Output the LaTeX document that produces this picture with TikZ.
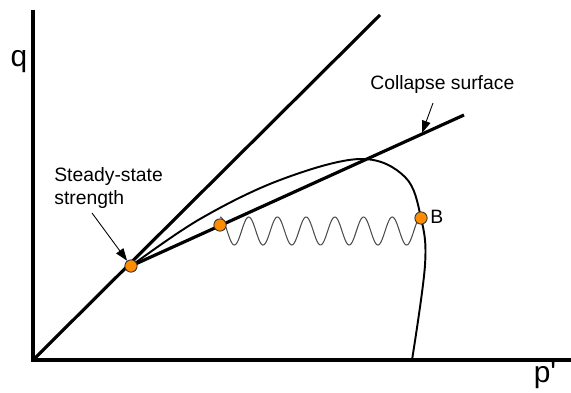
\documentclass[tikz,border=0pt]{standalone}
\usepackage{fontspec}
\setmainfont{Liberation Sans}
\usetikzlibrary{arrows.meta}

\begin{document}
\begin{tikzpicture}[
  x=0.02cm, y=-0.02cm,
  axis/.style={line width=2pt},
  envelope/.style={line width=1.8pt},
  path/.style={line width=1.1pt},
  wiggle/.style={line width=0.6pt, black!70},
  pointer/.style={line width=0.5pt, -{Triangle[length=7pt,width=5pt]}},
  state/.style={circle, draw=black!80, fill=orange!90!yellow, line width=0.5pt, inner sep=0pt, minimum size=7pt},
  lbl/.style={font=\fontsize{11}{13}\selectfont, inner sep=0pt}
]
\useasboundingbox (0,0) rectangle (571,392);
% axes
\coordinate (origin) at (33,360);
\coordinate (qtop) at (33,10);
\coordinate (pend) at (571,360);
\draw[axis] (qtop) -- (origin) -- (pend);
\node[lbl, font=\fontsize{17}{19}\selectfont] (qlabel) at (19,62) {q};
\node[lbl, font=\fontsize{17}{19}\selectfont] (plabel) at (545,375) {p\textquotesingle};
% failure lines
\coordinate (cslend) at (380,15);
\coordinate (collend) at (464,115);
\draw[envelope] (origin) -- (cslend);
\draw[envelope] (131,266) -- (collend);
% stress path
\draw[path] plot[smooth, tension=0.6] coordinates {(131,266) (200,219) (280,180) (360,159) (405,177) (421,218) (425,265) (412,360)};
% cyclic loading
\draw[wiggle] plot[domain=220:421, samples=240] (\x,{231-14*cos((\x-220)/28.71*360)});
% states
\node[state] (ssdot) at (131,266) {};
\node[state] (mdot) at (220,225) {};
\node[state] (bdot) at (421,218) {};
\node[lbl, anchor=west] (blabel) at (430,217) {B};
% labels
\node[lbl, anchor=west] (coll) at (370,85) {Collapse surface};
\node[lbl, anchor=west, align=left] (ss) at (54,188) {Steady-state\\strength};
\draw[pointer] (433,103) -- (422,133);
\draw[pointer] (92,213) -- (ssdot);
\end{tikzpicture}
\end{document}
